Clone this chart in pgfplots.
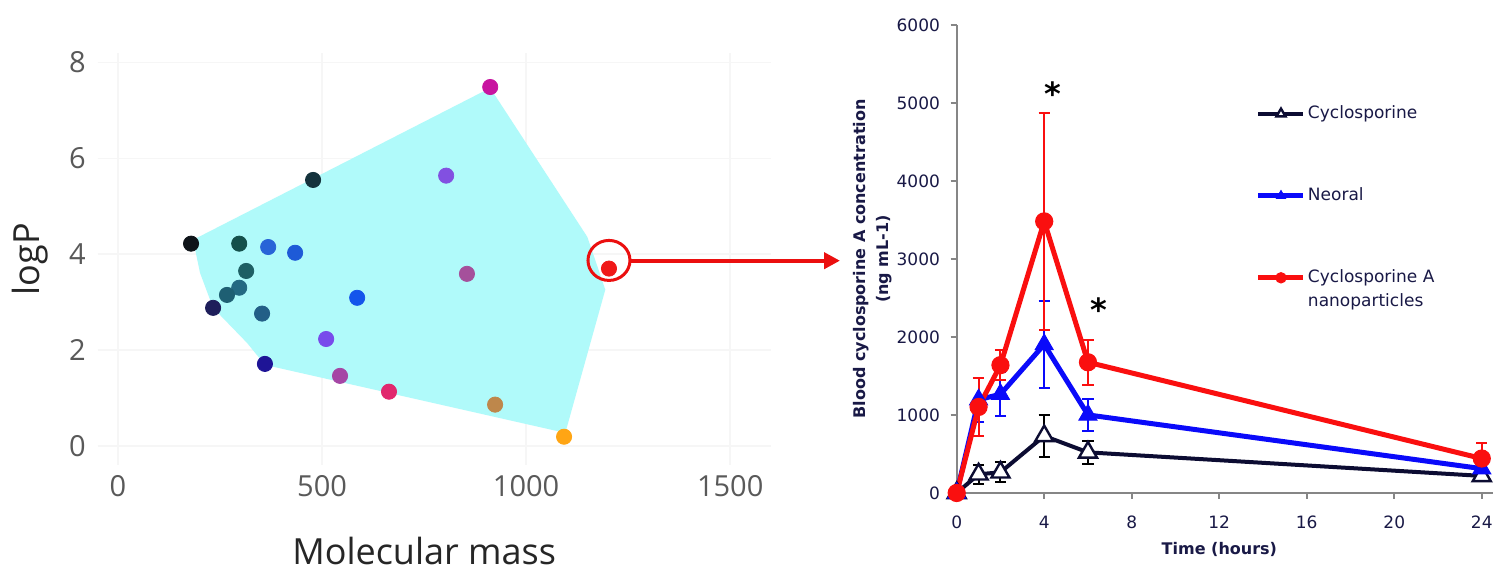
\documentclass[border=0pt]{standalone}
\usepackage{fontspec}
\setmainfont{DejaVu Sans}
\newfontfamily\lfont{Open Sans}
\newfontfamily\rfont{DejaVu Sans}
\usepackage{pgfplots}
\pgfplotsset{compat=1.18}
\usepackage{pgfplotstable}
\usetikzlibrary{arrows.meta}

\definecolor{hullc}{RGB}{176,250,250}
\definecolor{pA}{RGB}{200,20,160}
\definecolor{pB}{RGB}{20,50,60}
\definecolor{pC}{RGB}{130,80,225}
\definecolor{pD}{RGB}{15,20,25}
\definecolor{pE}{RGB}{20,80,75}
\definecolor{pF}{RGB}{40,100,215}
\definecolor{pG}{RGB}{30,90,215}
\definecolor{pH}{RGB}{30,95,100}
\definecolor{pI}{RGB}{35,105,130}
\definecolor{pJ}{RGB}{30,95,115}
\definecolor{pK}{RGB}{30,30,90}
\definecolor{pL}{RGB}{35,95,135}
\definecolor{pM}{RGB}{20,85,235}
\definecolor{pN}{RGB}{120,75,235}
\definecolor{pO}{RGB}{30,20,150}
\definecolor{pP}{RGB}{165,70,165}
\definecolor{pQ}{RGB}{225,40,110}
\definecolor{pR}{RGB}{165,80,155}
\definecolor{pS}{RGB}{190,135,75}
\definecolor{pT}{RGB}{255,165,20}
\definecolor{pU}{RGB}{240,25,25}
\definecolor{arrowred}{RGB}{235,15,15}
\definecolor{axgray}{RGB}{134,134,134}
\definecolor{navytext}{RGB}{25,25,70}
\definecolor{navyline}{RGB}{12,12,50}
\definecolor{serblue}{RGB}{10,10,250}
\definecolor{serred}{RGB}{250,15,15}

\pgfplotstableread{
m logP c
912 7.49 pA
478 5.55 pB
804 5.64 pC
179 4.22 pD
297 4.22 pE
368 4.15 pF
434 4.03 pG
314 3.65 pH
297 3.30 pI
267 3.15 pJ
233 2.88 pK
353 2.76 pL
586 3.09 pM
510 2.23 pN
360 1.71 pO
544 1.46 pP
664 1.13 pQ
855 3.59 pR
924 0.86 pS
1093 0.19 pT
1203 3.70 pU
}\drugs

\pgfplotstableread{
t v e
0 0 0
1 240 120
2 265 130
4 731 270
6 521 145
24 219 40
}\blk
\pgfplotstableread{
t v e
0 0 0
1 1196 280
2 1266 280
4 1904 560
6 1001 200
24 312 50
}\neo
\pgfplotstableread{
t v e
0 0 0
1 1103 375
2 1639 190
4 3482 1390
6 1676 290
24 442 195
}\nano

\begin{document}
\begin{tikzpicture}
\fill[white] (0,0) rectangle (747pt,285.5pt);
\path[use as bounding box] (0,0) rectangle (747pt,285.5pt);
\begin{axis}[
 at={(48.8pt,53pt)}, anchor=south west, scale only axis,
 width=336.7pt, height=206pt,
 xmin=-50, xmax=1600, ymin=-0.4, ymax=8.2,
 xtick={0,500,1000,1500}, ytick={0,2,4,6,8},
 grid=major, major grid style={draw=black!3.5, line width=0.8pt},
 axis line style={draw=none}, major tick length=0pt,
 /pgf/number format/assume math mode=true, /pgf/number format/1000 sep={},
 ticklabel style={font=\lfont\fontsize{14.5}{16}\selectfont, text=black!65},
 xticklabel style={anchor=center, inner sep=0pt, yshift=-10.5pt},
 yticklabel style={anchor=east, inner sep=0pt, xshift=-5.8pt},
 xlabel={Molecular mass}, ylabel={logP},
 label style={font=\lfont\fontsize{18}{20}\selectfont, text=black!85},
 xlabel style={at={(axis description cs:0.485,-0.2087)}, anchor=center},
 ylabel style={at={(axis description cs:-0.1004,0.5)}, anchor=center},
 clip=false,
]
\addplot[fill=hullc, draw=none] coordinates {
 (184,4.30) (912,7.47) (1150,4.36) (1194,3.26) (1096,0.27)
 (360,1.69) (316,2.15) (233,2.88) (201,3.61)} -- cycle;
\addplot[scatter, only marks, mark=*, mark size=3.8pt,
 scatter src=explicit symbolic,
 scatter/classes={
 pA={mark=*,draw=pA,fill=pA}, pB={mark=*,draw=pB,fill=pB},
 pC={mark=*,draw=pC,fill=pC}, pD={mark=*,draw=pD,fill=pD},
 pE={mark=*,draw=pE,fill=pE}, pF={mark=*,draw=pF,fill=pF},
 pG={mark=*,draw=pG,fill=pG}, pH={mark=*,draw=pH,fill=pH},
 pI={mark=*,draw=pI,fill=pI}, pJ={mark=*,draw=pJ,fill=pJ},
 pK={mark=*,draw=pK,fill=pK}, pL={mark=*,draw=pL,fill=pL},
 pM={mark=*,draw=pM,fill=pM}, pN={mark=*,draw=pN,fill=pN},
 pO={mark=*,draw=pO,fill=pO}, pP={mark=*,draw=pP,fill=pP},
 pQ={mark=*,draw=pQ,fill=pQ}, pR={mark=*,draw=pR,fill=pR},
 pS={mark=*,draw=pS,fill=pS}, pT={mark=*,draw=pT,fill=pT},
 pU={mark=*,draw=pU,fill=pU}}
] table[x=m, y=logP, meta=c] {\drugs};
\draw[arrowred, line width=1.5pt] (axis cs:1203,3.87) ellipse [x radius=10.5pt, y radius=10pt];
\end{axis}

\draw[arrowred, line width=2pt, -{Triangle[length=8pt, width=8pt]}] (315.5pt,155.15pt) -- (420pt,155.15pt);

\begin{axis}[
 at={(478.35pt,39pt)}, anchor=south west, scale only axis,
 width=268pt, height=234pt,
 xmin=0, xmax=24.5, ymin=0, ymax=6000,
 xtick={0,4,...,24}, ytick={0,1000,...,6000},
 axis x line*=bottom, axis y line*=left,
 axis line style={draw=axgray, line width=1pt, -},
 tick align=outside, major tick length=3pt,
 tick style={draw=axgray, line width=1pt},
 scaled y ticks=false,
 /pgf/number format/assume math mode=true, /pgf/number format/1000 sep={},
 ticklabel style={font=\rfont\fontsize{8.5}{10}\selectfont, text=navytext},
 xticklabel style={anchor=center, inner sep=0pt, yshift=-11.5pt},
 yticklabel style={anchor=east, inner sep=0pt, xshift=-5.2pt},
 xlabel={Time (hours)},
 ylabel={Blood cyclosporine A concentration\\(ng mL-1)},
 label style={font=\rfont\bfseries\fontsize{8}{11.5}\selectfont, text=navytext},
 xlabel style={at={(axis description cs:0.49,-0.1197)}, anchor=center},
 ylabel style={at={(axis description cs:-0.1567,0.5)}, anchor=center, align=center},
 clip=false,
 legend style={at={(axis cs:13.68,4996)}, anchor=north west, draw=none, fill=none,
   inner sep=0pt, outer sep=0pt, row sep=30.5pt, column sep=0pt,
   font=\rfont\fontsize{8.5}{12}\selectfont, text=navytext,
   nodes={inner sep=1pt, text height=6.5pt, text depth=2pt}},
 legend cell align=left,
 legend image code/.code={\draw[mark repeat=2, mark phase=2, #1, mark size=2.6pt] plot coordinates {(0pt,0pt) (11.25pt,0pt) (22.5pt,0pt)};},
]
\addplot[color=navyline, line width=2pt, mark=triangle*, mark size=5.2pt,
 mark options={fill=white, draw=navyline, line width=1.2pt},
 error bars/.cd, y dir=both, y explicit,
 error bar style={black, line width=1pt},
 error mark options={rotate=90, black, mark size=2.8pt, line width=1pt}]
 table[x=t, y=v, y error=e] {\blk};
\addlegendentry{Cyclosporine}
\addplot[color=serblue, line width=2.5pt, mark=triangle*, mark size=5.2pt,
 mark options={fill=serblue, draw=serblue, line width=0.5pt},
 error bars/.cd, y dir=both, y explicit,
 error bar style={serblue, line width=1pt},
 error mark options={rotate=90, serblue, mark size=2.8pt, line width=1pt}]
 table[x=t, y=v, y error=e] {\neo};
\addlegendentry{Neoral}
\addplot[color=serred, line width=2.5pt, mark=*, mark size=4.3pt,
 mark options={fill=serred, draw=serred, line width=0.5pt},
 error bars/.cd, y dir=both, y explicit,
 error bar style={serred, line width=1pt},
 error mark options={rotate=90, serred, mark size=2.8pt, line width=1pt}]
 table[x=t, y=v, y error=e] {\nano};
\addlegendentry{\begin{tabular}[t]{@{}l@{}}Cyclosporine A\\nanoparticles\end{tabular}}
\node[font=\rfont\bfseries\fontsize{16}{16}\selectfont, inner sep=0pt, yshift=-2.7pt] at (axis cs:4.38,5183) {*};
\node[font=\rfont\bfseries\fontsize{16}{16}\selectfont, inner sep=0pt, yshift=-2.7pt] at (axis cs:6.5,2414) {*};
\end{axis}
\end{tikzpicture}
\end{document}
